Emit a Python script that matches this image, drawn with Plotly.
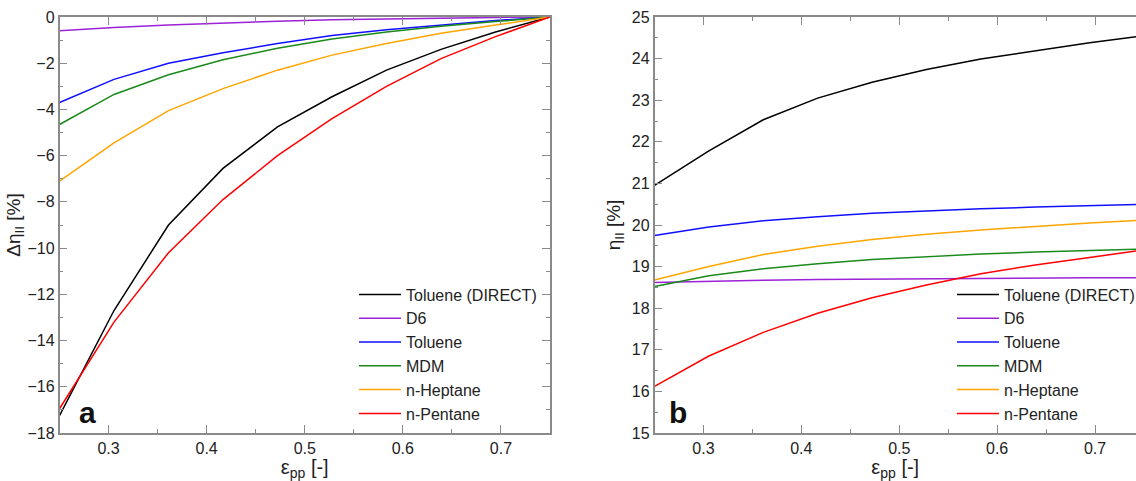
import plotly.graph_objects as go

# Pinch-point effectiveness samples (ten evenly spaced values)
eps_pp = [0.25, 0.30556, 0.36111, 0.41667, 0.47222, 0.52778, 0.58333, 0.63889, 0.69444, 0.75]

series_names = ["Toluene (DIRECT)", "D6", "Toluene", "MDM", "n-Heptane", "n-Pentane"]
series_colors = ["#000000", "#9b22d6", "#1010ff", "#1a8a1a", "#ffa500", "#ff0000"]

# Panel a: relative change of second-law efficiency [%]
d_tol_direct = [-17.25, -12.7, -9.0, -6.55, -4.75, -3.45, -2.3, -1.4, -0.65, 0.0]
d_d6 = [-0.6, -0.45, -0.35, -0.25, -0.18, -0.12, -0.08, -0.05, -0.02, 0.0]
d_toluene = [-3.7, -2.7, -2.0, -1.55, -1.15, -0.8, -0.55, -0.35, -0.15, 0.0]
d_mdm = [-4.65, -3.35, -2.5, -1.85, -1.35, -0.95, -0.65, -0.4, -0.2, 0.0]
d_heptane = [-7.1, -5.45, -4.05, -3.1, -2.3, -1.65, -1.15, -0.7, -0.35, 0.0]
d_pentane = [-16.95, -13.2, -10.2, -7.9, -6.0, -4.4, -3.0, -1.8, -0.85, 0.0]

# Panel b: second-law efficiency [%]
e_tol_direct = [20.95, 21.78, 22.53, 23.05, 23.43, 23.74, 23.99, 24.19, 24.38, 24.55]
e_d6 = [18.62, 18.65, 18.67, 18.69, 18.70, 18.71, 18.72, 18.72, 18.73, 18.73]
e_toluene = [19.75, 19.95, 20.1, 20.2, 20.28, 20.34, 20.39, 20.43, 20.47, 20.5]
e_mdm = [18.52, 18.78, 18.95, 19.07, 19.17, 19.24, 19.3, 19.35, 19.39, 19.42]
e_heptane = [18.68, 19.0, 19.29, 19.49, 19.65, 19.78, 19.88, 19.97, 20.05, 20.12]
e_pentane = [16.12, 16.85, 17.42, 17.88, 18.25, 18.56, 18.83, 19.04, 19.22, 19.4]

panel_a = [d_tol_direct, d_d6, d_toluene, d_mdm, d_heptane, d_pentane]
panel_b = [e_tol_direct, e_d6, e_toluene, e_mdm, e_heptane, e_pentane]

W, H = 1136, 481
FONT = "Liberation Sans, Arial, sans-serif"
AXC = "#8a8a8a"
TXT = "#222222"

fig = go.Figure()
for name, col, ys in zip(series_names, series_colors, panel_a):
    fig.add_trace(go.Scatter(x=eps_pp, y=ys, mode="lines", name=name,
                             line=dict(color=col, width=1.5),
                             xaxis="x", yaxis="y", legend="legend"))
for name, col, ys in zip(series_names, series_colors, panel_b):
    fig.add_trace(go.Scatter(x=eps_pp, y=ys, mode="lines", name=name,
                             line=dict(color=col, width=1.5),
                             xaxis="x2", yaxis="y2", legend="legend2"))

px = lambda p: p / W
py = lambda p: 1 - p / H

y_dom = [py(433), py(17)]
xa_dom = [px(59.5), px(550)]
xb_dom = [px(654.5), 1.0]

common_axis = dict(
    showline=True, linecolor=AXC, linewidth=1.5, automargin=False,
    ticks="inside", ticklen=8, tickwidth=1, tickcolor=AXC,
    showgrid=False, zeroline=False,
    tickfont=dict(family=FONT, size=16, color=TXT),
)
minor_x = dict(dtick=0.05, ticklen=4, ticks="inside", tickcolor=AXC, showgrid=False)


def x_title():
    return dict(text="ε<sub>pp</sub> [-]", standoff=4,
                font=dict(family=FONT, size=20, color=TXT))


def legend_at(x_px):
    return dict(x=px(x_px), y=py(277.5), xanchor="left", yanchor="top",
                bgcolor="rgba(0,0,0,0)", tracegroupgap=0, itemwidth=42,
                font=dict(family=FONT, size=16, color=TXT))


def panel_label(text, x_px):
    return dict(text=f"<b>{text}</b>", x=px(x_px), y=py(412), xref="paper", yref="paper",
                xanchor="center", yanchor="middle", showarrow=False,
                font=dict(family=FONT, size=30, color="#111111"))


fig.update_layout(
    width=W, height=H,
    margin=dict(l=0, r=0, t=0, b=0, autoexpand=False),
    paper_bgcolor="white", plot_bgcolor="white",
    font=dict(family=FONT, color=TXT),
    showlegend=True,
    xaxis=dict(domain=xa_dom, range=[0.25, 0.75], anchor="y", dtick=0.1, tick0=0.3,
               mirror="ticks", minor=minor_x, title=x_title(), **common_axis),
    yaxis=dict(domain=y_dom, range=[-18, 0], anchor="x", dtick=2, mirror="ticks",
               minor=dict(dtick=1, ticklen=4, ticks="inside", tickcolor=AXC, showgrid=False),
               title=dict(text="Δη<sub>II</sub> [%]", standoff=0,
                          font=dict(family=FONT, size=19, color=TXT)),
               **common_axis),
    xaxis2=dict(domain=xb_dom, range=[0.25, 0.25 + (W - 654.5) / 979.0], anchor="y2",
                dtick=0.1, tick0=0.3, mirror="ticks", minor=minor_x, title=x_title(),
                **common_axis),
    yaxis2=dict(domain=y_dom, range=[15, 25], anchor="x2", dtick=1,
                minor=dict(dtick=0.5, ticklen=4, ticks="inside", tickcolor=AXC, showgrid=False),
                title=dict(text="η<sub>II</sub> [%]", standoff=6,
                           font=dict(family=FONT, size=19, color=TXT)),
                **common_axis),
    legend=legend_at(354),
    legend2=legend_at(952),
    annotations=[panel_label("a", 87), panel_label("b", 678)],
)

fig.write_html("out.html", config=dict(displayModeBar=False))
